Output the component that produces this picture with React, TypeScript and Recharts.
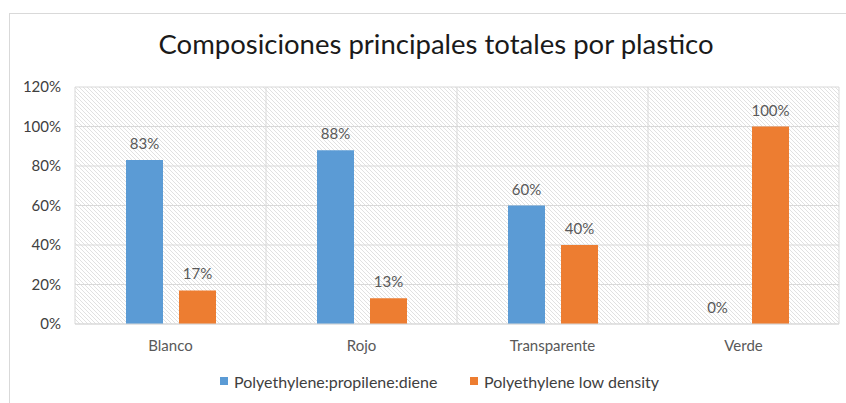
import React from "react";
import { BarChart, Bar, XAxis, YAxis, CartesianGrid, LabelList, Legend, Cell } from "recharts";

const categories = ["Blanco", "Rojo", "Transparente", "Verde"];
const propileneDiene = [83, 88, 60, 0];
const lowDensity = [17, 13, 40, 100];
const yTicks = [0, 20, 40, 60, 80, 100, 120];
const seriesNames = ["Polyethylene:propilene:diene", "Polyethylene low density"];
const seriesColors = ["#5B9BD5", "#ED7D31"];
const title = "Composiciones principales totales por plastico";

const data = categories.map((c, i) => ({ name: c, a: propileneDiene[i], b: lowDensity[i] }));

const FONT = "Lato, 'Liberation Sans', sans-serif";

const LegendContent = () => (
  <div style={{ position: "relative", height: 40, width: "100%", fontFamily: FONT }}>
    {seriesNames.map((n, i) => (
      <div
        key={n}
        style={{
          position: "absolute",
          left: i === 0 ? 220 : 470,
          top: 18,
          height: 18,
          display: "flex",
          alignItems: "center",
          whiteSpace: "nowrap",
          fontSize: 16,
          color: "#404040",
        }}
      >
        <span style={{ width: 8, height: 8, background: seriesColors[i], display: "inline-block", marginRight: 6 }} />
        {n}
      </div>
    ))}
  </div>
);

const renderBarLabel = (props: any) => {
  const { x, y, width, height, value } = props;
  if (x == null || y == null) return null;
  // zero-valued bars get a 1px invisible minimum size; anchor their label at the baseline
  const top = Number(value) === 0 ? Number(y) + Number(height) : Number(y);
  return (
    <text
      x={Number(x) + Number(width) / 2}
      y={top - 11}
      textAnchor="middle"
      fill="#595959"
      fontSize={15}
      fontFamily={FONT}
    >
      {`${value}%`}
    </text>
  );
};

const zeroMin = (value: any) => (Number(Array.isArray(value) ? value[1] - value[0] : value) === 0 ? 1 : 0);

export default function App() {
  return (
    <div style={{ position: "absolute", left: 0, top: 0, width: 846, height: 403, overflow: "hidden", background: "#fff" }}>
      <div
        style={{
          position: "absolute",
          left: 9,
          top: 13,
          width: 900,
          height: 500,
          border: "1px solid #d9d9d9",
          boxSizing: "border-box",
        }}
      />
      <div
        style={{
          position: "absolute",
          left: 0,
          width: 872,
          top: 29,
          height: 30,
          lineHeight: "30px",
          textAlign: "center",
          fontFamily: FONT,
          fontSize: 27.5,
          color: "#1a1a1a",
          whiteSpace: "nowrap",
        }}
      >
        {title}
      </div>
      <div style={{ position: "absolute", left: 0, top: 0 }}>
        <BarChart
          width={846}
          height={403}
          data={data}
          margin={{ top: 87, right: 7, left: 0, bottom: 9 }}
          barSize={37}
          barGap={16}
        >
          <defs>
            <pattern id="hatch" patternUnits="userSpaceOnUse" width="4" height="4">
              <rect width="4" height="4" fill="#ffffff" />
              <path d="M0,0 L4,4 M-1,3 L1,5 M3,-1 L5,1" stroke="#d9d9d9" strokeWidth="0.8" />
            </pattern>
          </defs>
          <CartesianGrid
            stroke="#d9d9d9"
            fill="url(#hatch)"
            fillOpacity={1}
            verticalCoordinatesGenerator={({ offset }: any) =>
              categories.map((_, i) => offset.left + (i * offset.width) / categories.length).concat([offset.left + offset.width])
            }
          />
          <XAxis
            dataKey="name"
            height={30}
            axisLine={{ stroke: "#d9d9d9" }}
            tickLine={false}
            tickMargin={10}
            tick={{ fill: "#595959", fontSize: 15, fontFamily: FONT }}
          />
          <YAxis
            width={75}
            domain={[0, 120]}
            ticks={yTicks}
            axisLine={false}
            tickLine={false}
            tickMargin={8}
            tickFormatter={(v: number) => `${v}%`}
            tick={{ fill: "#404040", fontSize: 15, fontFamily: FONT }}
          />
          <Legend verticalAlign="bottom" content={<LegendContent />} />
          <Bar dataKey="a" name={seriesNames[0]} fill={seriesColors[0]} minPointSize={zeroMin as any} isAnimationActive={false}>
            {propileneDiene.map((v, i) => (
              <Cell key={i} fill={v === 0 ? "transparent" : seriesColors[0]} />
            ))}
            <LabelList dataKey="a" content={renderBarLabel} />
          </Bar>
          <Bar dataKey="b" name={seriesNames[1]} fill={seriesColors[1]} minPointSize={zeroMin as any} isAnimationActive={false}>
            {lowDensity.map((v, i) => (
              <Cell key={i} fill={v === 0 ? "transparent" : seriesColors[1]} />
            ))}
            <LabelList dataKey="b" content={renderBarLabel} />
          </Bar>
        </BarChart>
      </div>
    </div>
  );
}
